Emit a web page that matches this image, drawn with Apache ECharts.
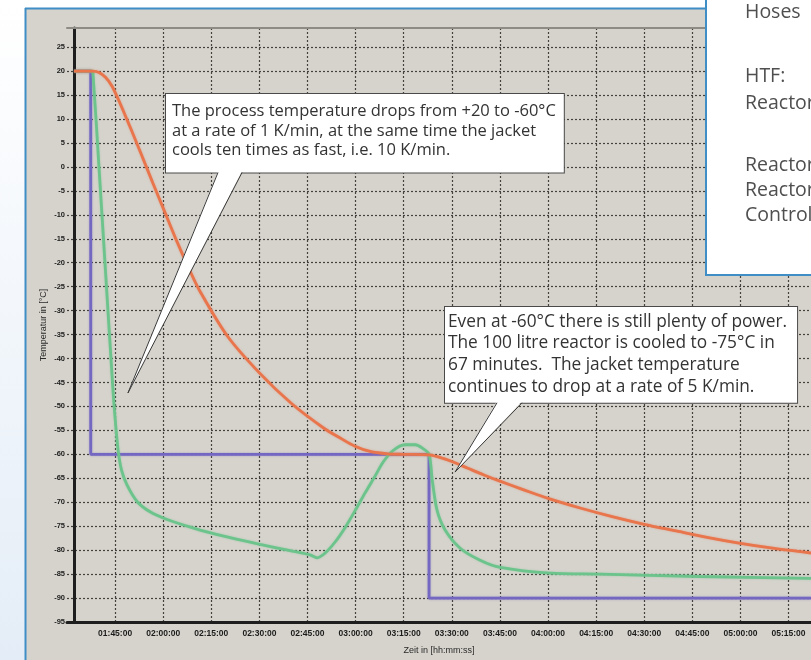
<!DOCTYPE html>
<html>
<head>
<meta charset="utf-8">
<script src="https://cdn.jsdelivr.net/npm/echarts@6/dist/echarts.min.js"></script>
<style>
  html, body { margin: 0; padding: 0; background: #ffffff; }
  #chart { width: 811px; height: 660px; }
</style>
</head>
<body>
<div id="chart"></div>
<script>
// Times are minutes after 00:00:00, temperatures in °C.

// Set point of the jacket temperature (step profile)
const setpointTime = [92.2, 97.4, 97.4, 202.9, 202.9, 322.0];
const setpointTemp = [20, 20, -60, -60, -90, -90];

// Process (reactor) temperature
const reactorTime = [92.2, 98.0, 100.0, 102.0, 104.0, 106.0, 108.0, 110.0, 113.0, 116.8,
  120.0, 124.3, 128.0, 131.5, 140.0, 150.0, 160.0, 170.0, 175.2, 179.8,
  184.5, 190.0, 195.0, 203.0, 206.0, 210.0, 215.0, 220.0, 225.0, 232.0,
  240.0, 250.0, 260.0, 270.0, 280.0, 290.0, 300.0, 310.0, 322.0];
const reactorTemp = [20, 20, 19.7, 18.7, 16.9, 14.1, 11.0, 7.8, 2.9, -3.4,
  -8.6, -15.6, -21.2, -26.0, -35.3, -43.0, -49.4, -54.5, -56.6, -58.3,
  -59.4, -59.9, -60.0, -60.1, -60.6, -61.5, -62.9, -64.3, -65.6, -67.3,
  -69.2, -71.2, -73.0, -74.6, -76.0, -77.4, -78.6, -79.6, -80.6];

// Jacket temperature
const jacketTime = [92.2, 97.8, 98.1, 100.0, 102.0, 104.4, 105.2, 106.0, 107.0, 108.7,
  111.9, 115.9, 121.2, 127.5, 131.5, 140.9, 150.2, 159.6, 165.8, 168.0,
  170.5, 173.6, 176.7, 179.8, 183.0, 186.1, 188.6, 191.7, 195.4, 198.6,
  201.0, 202.9, 203.9, 205.4, 207.9, 212.6, 218.8, 225.1, 240.6, 256.2,
  287.4, 322.0];
const jacketTemp = [20, 20, 19.5, -0.3, -21.7, -47.2, -54.0, -59.5, -63.3, -66.4,
  -69.9, -72.0, -73.6, -75.0, -75.8, -77.4, -78.8, -80.1, -81.0, -81.6,
  -80.6, -78.3, -75.3, -71.8, -68.0, -64.5, -61.6, -59.2, -58.0, -58.0,
  -58.8, -60.0, -65.4, -71.7, -75.8, -79.6, -82.1, -83.6, -84.8, -85.0,
  -85.5, -85.9];

// Axis ranges
const timeMin = 90, timeMax = 322, timeStep = 15;
const tempMin = -95, tempMax = 29, tempStep = 5;

// Annotation texts
const noteCooling = [
  'The process temperature drops from +20 to -60°C',
  'at a rate of 1 K/min, at the same time the jacket',
  'cools ten times as fast, i.e. 10 K/min.'
];
const notePower = [
  'Even at -60°C there is still plenty of power.',
  'The 100 litre reactor is cooled to -75°C in',
  '67 minutes.  The jacket temperature',
  'continues to drop at a rate of 5 K/min.'
];
const sideLines = ['Hoses', 'HTF:', 'Reactor', 'Reactor', 'Reactor', 'Control'];

// Points the callout pointers aim at [time, temperature]
const noteCoolingTip = [109.0, -47.2];
const notePowerTip = [211.0, -63.7];

function pairs(xs, ys) { return xs.map((x, i) => [x, ys[i]]); }
function hms(m) {
  const s = Math.round(m * 60);
  const h = Math.floor(s / 3600), mm = Math.floor((s % 3600) / 60), ss = s % 60;
  return [h, mm, ss].map(v => String(v).padStart(2, '0')).join(':');
}

const chart = echarts.init(document.getElementById('chart'), null, { renderer: 'canvas' });

const gridLine = { color: '#43413d', width: 1.2, type: [2, 2] };
const xTickFont = { color: '#1c1c1c', fontSize: 8.5, fontWeight: 'bold', fontFamily: 'Liberation Sans' };
const yTickFont = { color: '#1c1c1c', fontSize: 7.5, fontWeight: 'bold', fontFamily: 'Liberation Sans' };
const nameFont = { color: '#2a2a2a', fontSize: 9, fontFamily: 'Liberation Sans' };

function lineSeries(name, data, color, smooth, z) {
  return {
    type: 'line', name, data, z,
    showSymbol: false, symbol: 'none',
    smooth,
    lineStyle: { color, width: 2.8, shadowBlur: 2, shadowColor: color + '88' },
    emphasis: { disabled: true }
  };
}

chart.setOption({
  animation: false,
  backgroundColor: '#d6d3cc',
  grid: { left: 67, right: 0, top: 28, bottom: 38, containLabel: false },
  xAxis: [{
    type: 'value', position: 'bottom',
    min: timeMin, max: timeMax, interval: timeStep,
    axisLine: { show: true, onZero: false, lineStyle: { color: '#1e1e1e', width: 3 } },
    axisTick: { show: false },
    axisLabel: Object.assign({ showMinLabel: false, showMaxLabel: false, margin: 7, formatter: hms }, xTickFont),
    splitLine: { show: true, showMinLine: false, showMaxLine: false, lineStyle: gridLine },
    name: 'Zeit in [hh:mm:ss]', nameLocation: 'middle', nameGap: 24, nameMoveOverlap: false,
    nameTextStyle: nameFont
  }, {
    type: 'value', position: 'top',
    min: timeMin, max: timeMax,
    axisLine: { show: true, onZero: false, lineStyle: { color: '#8e8b85', width: 2 } },
    axisTick: { show: false }, axisLabel: { show: false }, splitLine: { show: false }
  }],
  yAxis: {
    type: 'value', offset: -7,
    min: tempMin, max: tempMax, interval: tempStep,
    axisLine: { show: true, onZero: false, lineStyle: { color: '#1e1e1e', width: 3 } },
    axisTick: { show: false },
    axisLabel: Object.assign({ showMaxLabel: false, margin: 9 }, yTickFont),
    splitLine: { show: true, showMaxLine: false, lineStyle: gridLine },
    name: 'Temperatur in [°C]', nameLocation: 'middle', nameGap: 26, nameMoveOverlap: false,
    nameTextStyle: nameFont
  },
  series: [
    lineSeries('Sollwert', pairs(setpointTime, setpointTemp), '#7467c2', false, 3),
    lineSeries('Tj', pairs(jacketTime, jacketTemp), '#6cc48c', 0.3, 4),
    lineSeries('Tr', pairs(reactorTime, reactorTemp), '#e8754c', 0.3, 5)
  ]
});

// Frame, side panel and annotations
function buildGraphics() {
  const els = [];
  const blue = '#3f8ec6';
  els.push({ type: 'rect', shape: { x: 0, y: 0, width: 25, height: 660 }, z: 50,
    style: { fill: new echarts.graphic.LinearGradient(0, 0, 0, 1, [
      { offset: 0, color: '#ffffff' }, { offset: 1, color: '#e4edf7' }]) } });
  els.push({ type: 'rect', shape: { x: 0, y: 0, width: 811, height: 8 }, z: 50, style: { fill: '#ffffff' } });
  els.push({ type: 'line', shape: { x1: 25.5, y1: 8, x2: 25.5, y2: 660 }, z: 51, style: { stroke: blue, lineWidth: 2 } });
  els.push({ type: 'line', shape: { x1: 25, y1: 8.5, x2: 707, y2: 8.5 }, z: 51, style: { stroke: blue, lineWidth: 2 } });

  // info panel top right
  els.push({ type: 'rect', shape: { x: 706, y: -5, width: 115, height: 280 }, z: 60,
    style: { fill: '#ffffff', stroke: blue, lineWidth: 2 } });
  const sideY = [12, 76, 103, 165, 190, 215];
  sideLines.forEach((t, i) => {
    els.push({ type: 'text', x: 745, y: sideY[i], z: 61,
      style: { text: t, fill: '#4f4f4f', font: '19.5px "Open Sans"', verticalAlign: 'middle', align: 'left' } });
  });

  // callouts
  function callout(lines, boxX, boxY, font, lh, pad, baseL, baseR, tip) {
    const p = chart.convertToPixel({ xAxisIndex: 0, yAxisIndex: 0 }, tip);
    const h = lines.length * lh + pad[0] + pad[2];
    const bottom = boxY + h;
    els.push({ type: 'text', x: boxX, y: boxY, z: 70,
      style: { text: lines.join('\n'), font, fill: '#333333', lineHeight: lh,
        backgroundColor: '#ffffff', borderColor: '#4a4a4a', borderWidth: 1, padding: pad } });
    els.push({ type: 'polygon', z: 71,
      shape: { points: [[boxX + baseL, bottom - 1.5], [p[0], p[1]], [boxX + baseR, bottom - 1.5]] },
      style: { fill: '#ffffff' } });
    els.push({ type: 'polyline', z: 72,
      shape: { points: [[boxX + baseL, bottom], [p[0], p[1]], [boxX + baseR, bottom]] },
      style: { stroke: '#3a3a3a', lineWidth: 1, fill: null } });
  }
  callout(noteCooling, 166, 94, '16.5px "Open Sans"', 19.5, [8, 8, 12, 6], 52, 76, noteCoolingTip);
  callout(notePower, 445, 307, '17.3px "Open Sans"', 21.7, [4, 10, 5, 3], 52, 77, notePowerTip);
  return els;
}
chart.setOption({ graphic: { elements: buildGraphics() } });
</script>
</body>
</html>
